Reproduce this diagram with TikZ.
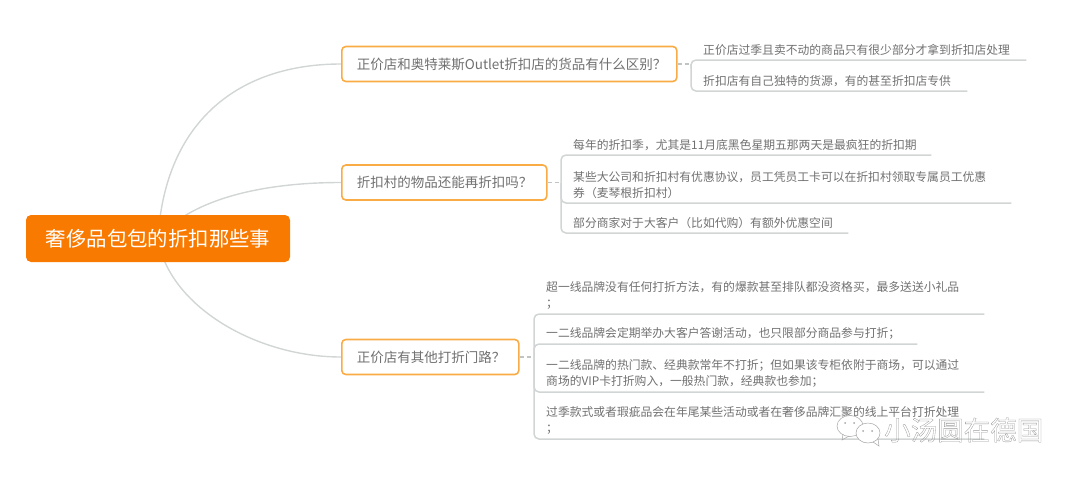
\documentclass[tikz,border=0pt]{standalone}
\usepackage{fontspec}
\setmainfont{Noto Sans CJK SC}
\usetikzlibrary{backgrounds}
\definecolor{rootfill}{HTML}{F97A00}
\definecolor{branchline}{HTML}{F9AC45}
\definecolor{linkgray}{HTML}{D2D5D5}
\definecolor{textgray}{HTML}{707070}
\tikzset{
    rootbox/.style={fill=rootfill, rounded corners=5pt, text=white, minimum width=264pt, minimum height=47pt, inner sep=0pt, font=\fontsize{20.4}{24}\selectfont},
    branchbox/.style={draw=branchline, line width=1.6pt, fill=white, rounded corners=4pt, text=textgray, minimum height=35pt, inner xsep=15pt, inner ysep=0pt, text width=#1-30pt, align=left, anchor=west, font=\fontsize{13.5}{16}\selectfont},
    leafbox/.style={anchor=south west, text=textgray, text width=#1-24pt, inner xsep=12pt, inner ysep=4.5pt, align=left, font=\fontsize{11.8}{16}\selectfont},
    rootlink/.style={draw=linkgray, line width=1.4pt},
    stublink/.style={draw=linkgray!80!gray, line width=1.2pt, dash pattern=on 4pt off 3pt},
    leaflink/.style={draw=linkgray, line width=1.5pt, rounded corners=5pt}
}
\begin{document}
\begin{tikzpicture}[x=1pt, y=-1pt]
    \useasboundingbox (0,0) rectangle (1080,477);
    \node[rootbox] (root) at (158,238.5) {奢侈品包包的折扣那些事};
    % Three questions
    \node[branchbox=335pt] (outlet) at (341,64) {正价店和奥特莱斯Outlet折扣店的货品有什么区别？};
    \node[branchbox=205pt] (village) at (341,182.5) {折扣村的物品还能再折扣吗？};
    \node[branchbox=177pt] (other) at (341,357) {正价店有其他打折门路？};
    \begin{pgfonlayer}{background}
        \draw[rootlink] (root.center) .. controls (165,120) and (240,64) .. (outlet.west);
        \draw[rootlink] (root.center) .. controls (188,202) and (255,182.5) .. (village.west);
        \draw[rootlink] (root.center) .. controls (168,305) and (255,357) .. (other.west);
    \end{pgfonlayer}
    % Answers of the first question
    \coordinate (outletstub) at (691,64);
    \node[leafbox=335pt] (outleta) at (691,60) {正价店过季且卖不动的商品只有很少部分才拿到折扣店处理};
    \node[leafbox=276pt] (outletb) at (691,91) {折扣店有自己独特的货源，有的甚至折扣店专供};
    \draw[stublink] (outlet.east) -- (outletstub);
    \foreach \leaf in {outleta,outletb} {
        \draw[leaflink] (outletstub) |- (\leaf.south east);
    }
    % Answers of the second question
    \coordinate (villagestub) at (561,182.5);
    \node[leafbox=370pt] (villagea) at (561,155) {每年的折扣季，尤其是11月底黑色星期五那两天是最疯狂的折扣期};
    \node[leafbox=450pt] (villageb) at (561,203) {某些大公司和折扣村有优惠协议，员工凭员工卡可以在折扣村领取专属员工优惠\\券（麦琴根折扣村）};
    \node[leafbox=287pt] (villagec) at (561,233) {部分商家对于大客户（比如代购）有额外优惠空间};
    \draw[stublink] (village.east) -- (villagestub);
    \foreach \leaf in {villagea,villageb,villagec} {
        \draw[leaflink] (villagestub) |- (\leaf.south east);
    }
    % Answers of the third question
    \coordinate (otherstub) at (534,357);
    \node[leafbox=450pt] (othera) at (534,314) {超一线品牌没有任何打折方法，有的爆款甚至排队都没资格买，最多送送小礼品\\；};
    \node[leafbox=383pt] (otherb) at (534,344) {一二线品牌会定期举办大客户答谢活动，也只限部分商品参与打折；};
    \node[leafbox=450pt] (otherc) at (534,392) {一二线品牌的热门款、经典款常年不打折；但如果该专柜依附于商场，可以通过\\商场的VIP卡打折购入，一般热门款，经典款也参加；};
    \node[leafbox=450pt] (otherd) at (534,439) {过季款式或者瑕疵品会在年尾某些活动或者在奢侈品牌汇聚的线上平台打折处理\\；};
    \draw[stublink] (other.east) -- (otherstub);
    \foreach \leaf in {othera,otherb,otherc,otherd} {
        \draw[leaflink] (otherstub) |- (\leaf.south east);
    }
    % Watermark
    \draw[gray!70, fill=white, line width=0.5pt] (850,426) ellipse (13pt and 10.5pt);
    \draw[gray!70, fill=white, line width=0.5pt] (868,433) ellipse (12pt and 10pt);
    \draw[gray!70, line width=0.5pt] (843,434) -- (842,440) -- (849,436);
    \draw[gray!70, line width=0.5pt] (873,442) -- (879,446) -- (878,439);
    \fill[gray!70] (845,423) circle (1pt) (854,423) circle (1pt) (863,431) circle (1pt) (872,431) circle (1pt);
    \node[text=gray!80, inner sep=0pt, anchor=west, font=\fontsize{26.5}{30}\selectfont] (mark) at (884,430) {\special{pdf:code 1 Tr 0.3 w}小汤圆在德国\special{pdf:code 0 Tr}};
\end{tikzpicture}
\end{document}
